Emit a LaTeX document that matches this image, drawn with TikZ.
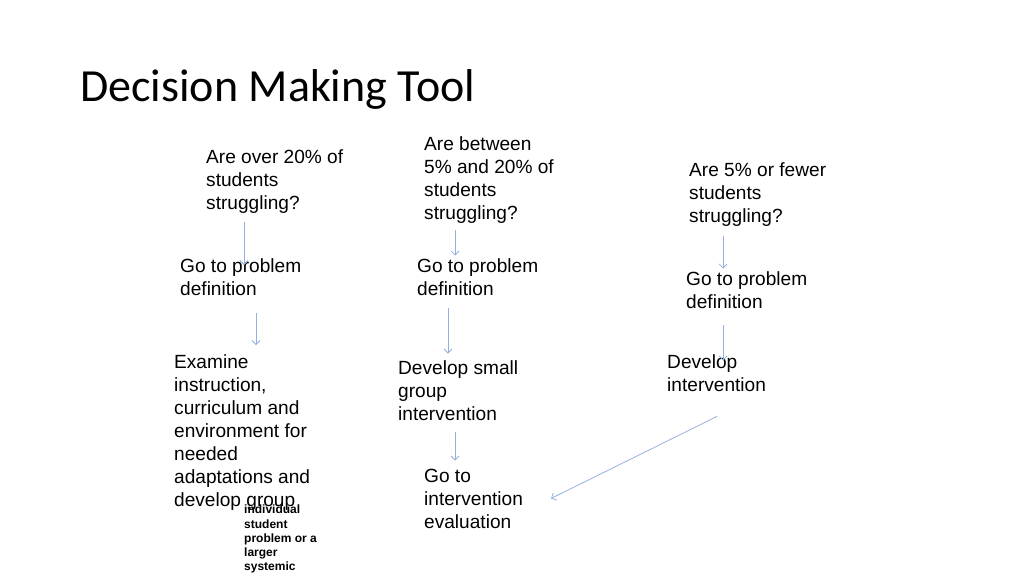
\documentclass[tikz,border=0pt]{standalone}
\usepackage{fontspec}
\setmainfont{Liberation Sans}
\newfontfamily\titlefont{Carlito}
\usepackage{xcolor}
\usetikzlibrary{arrows.meta}
\definecolor{arrowblue}{RGB}{150,176,222}

\begin{document}
\begin{tikzpicture}[x=1pt, y=-1pt,
        textnode/.style={anchor=north west, inner sep=0pt, align=left, font=\fontsize{19.1}{23}\selectfont},
        smallnode/.style={anchor=north west, inner sep=0pt, align=left, font=\fontsize{12}{14.2}\selectfont\bfseries},
        arrow/.style={-{Straight Barb[length=4pt,width=8pt]}, draw=arrowblue, line width=0.8pt}
        ]
            \useasboundingbox (0,0) rectangle (1024,576);
            \node[anchor=base west, inner sep=0pt, font=\titlefont\fontsize{46}{56}\selectfont] (title) at (80,101) {Decision Making Tool};

            % questions
            \node[textnode] (Q1) at (206,149) {Are over 20\% of\\students\\struggling?};
            \node[textnode] (Q2) at (424,136) {Are between\\5\% and 20\% of\\students\\struggling?};
            \node[textnode] (Q3) at (689,162) {Are 5\% or fewer\\students\\struggling?};

            % problem definition
            \node[textnode] (P1) at (180,258) {Go to problem\\definition};
            \node[textnode] (P2) at (417,258) {Go to problem\\definition};
            \node[textnode] (P3) at (686,271) {Go to problem\\definition};

            % next steps
            \node[textnode] (E1) at (174,354) {Examine\\instruction,\\curriculum and\\environment for\\needed\\adaptations and\\develop group};
            \node[textnode] (D2) at (398,360) {Develop small\\group\\intervention};
            \node[textnode] (D3) at (667,354) {Develop\\intervention};
            \node[textnode] (G2) at (424,469) {Go to\\intervention\\evaluation};
            \node[smallnode] (S1) at (244,505) {individual\\student\\problem or a\\larger\\systemic};

            \draw[arrow] ([xshift=38pt,yshift=-8.7pt]Q1.south west) -- ([xshift=64pt,yshift=-7pt]P1.north west);
            \draw[arrow] ([xshift=76pt,yshift=-18pt]P1.south west) -- ([xshift=82pt,yshift=9pt]E1.north west);
            \draw[arrow] ([xshift=31pt,yshift=-7pt]Q2.south west) -- ([xshift=38pt,yshift=2.5pt]P2.north west);
            \draw[arrow] ([xshift=31pt,yshift=-13pt]P2.south west) -- ([xshift=50pt,yshift=6.5pt]D2.north west);
            \draw[arrow] ([xshift=57pt,yshift=-12pt]D2.south west) -- ([xshift=31pt,yshift=8.5pt]G2.north west);
            \draw[arrow] ([xshift=34pt,yshift=-10pt]Q3.south west) -- ([xshift=37pt,yshift=2.5pt]P3.north west);
            \draw[arrow] ([xshift=37pt,yshift=-17pt]P3.south west) -- ([xshift=56pt,yshift=-6.5pt]D3.north west);
            \draw[arrow] ([xshift=50pt,yshift=-25pt]D3.south west) -- ([xshift=127pt,yshift=-29.5pt]G2.north west);

        \end{tikzpicture}
\end{document}
